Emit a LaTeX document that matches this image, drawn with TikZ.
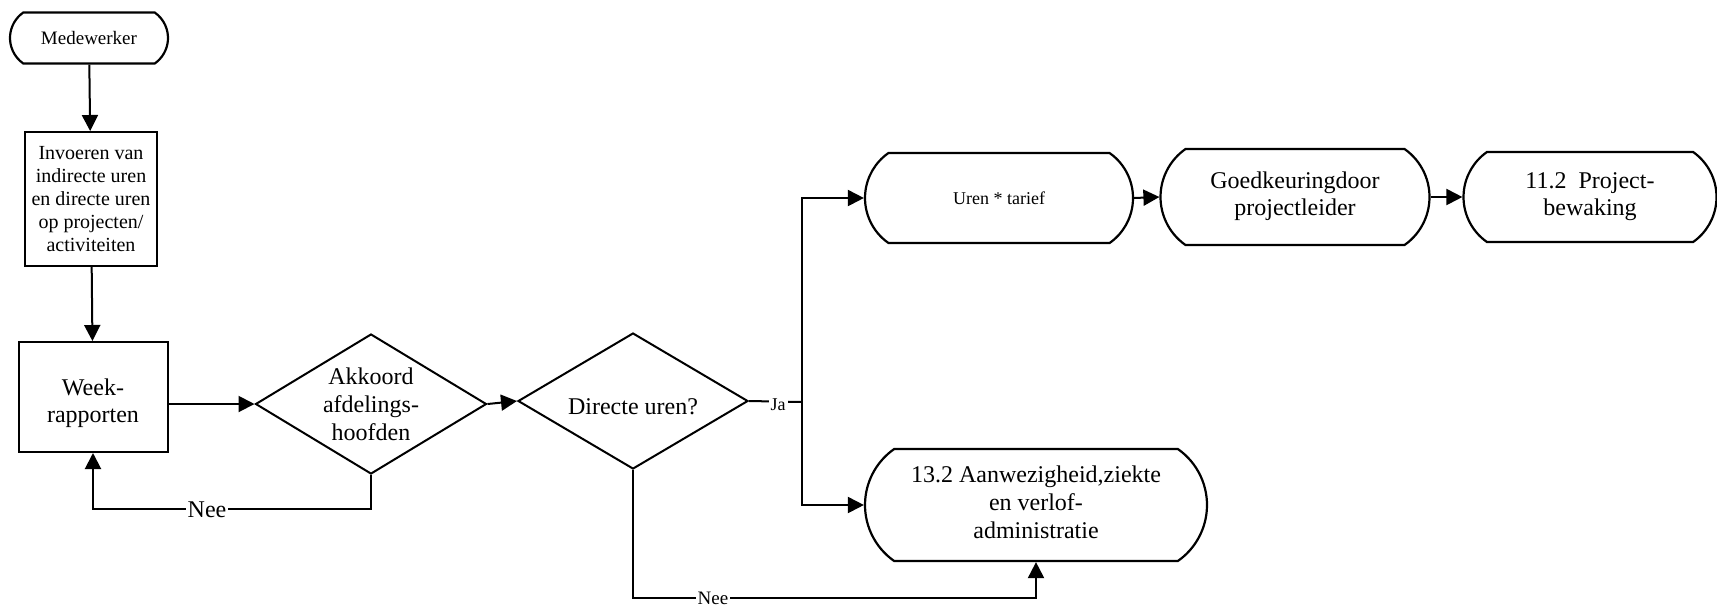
\documentclass[tikz,border=0pt]{standalone}
\usepackage{fontspec}
\setmainfont{Liberation Serif}
\usetikzlibrary{shapes.misc,shapes.geometric,arrows.meta}
% centred stack of lines for the rounded end boxes
\newcommand{\linesC}[1]{\begin{tabular}{@{}c@{}}#1\end{tabular}}
\begin{document}
\begin{tikzpicture}[x=0.5pt,y=-0.5pt,
  term/.style={rounded rectangle, rounded rectangle arc length=110, draw, line width=1.1pt, inner sep=0pt},
  proc/.style={rectangle, draw, line width=1pt, inner sep=0pt, align=center},
  dec/.style={diamond, draw, line width=1pt, inner sep=0pt},
  flow/.style={line width=1pt, -{Triangle[length=8pt,width=8pt]}},
  plain/.style={line width=1pt},
  lbl/.style={fill=white, inner sep=1pt},
  big/.style={font=\fontsize{12}{13.5}\selectfont},
  small/.style={font=\fontsize{9}{11}\selectfont}]
\useasboundingbox (0,0) rectangle (1717,607);

% left column
\node[term, font=\fontsize{9.5}{11}\selectfont, minimum width=79pt, minimum height=25.5pt] (med) at (89,38) {Medewerker};
\node[proc, font=\fontsize{10}{11.5}\selectfont, minimum width=66pt, minimum height=67pt] (inv) at (91,199)
  {Invoeren van\\indirecte uren\\en directe uren\\op projecten/\\activiteiten};
\node[proc, minimum width=74.5pt, minimum height=55pt] (week) at (93,397) {};
\node[big, align=center] (weektxt) at (93,403) {Week-\\rapporten};

% decisions
\node[dec, minimum width=115.5pt, minimum height=70pt] (akk) at (371,404) {};
\node[font=\fontsize{12}{14}\selectfont, align=center] (akktxt) at (371,404) {Akkoord\\afdelings-\\hoofden};
\node[dec, minimum width=115pt, minimum height=68pt] (dir) at (633,401) {};
\node[big] (dirtxt) at (633,407) {Directe uren?};

% right side terminals
\node[term, small, minimum width=134pt, minimum height=45pt] (uren) at (999,198) {Uren * tarief};
\node[term, big, minimum width=134.5pt, minimum height=48pt] (goed) at (1295,197)
  {\linesC{Goedkeuringdoor\\projectleider}};
\node[term, big, minimum width=126.5pt, minimum height=45pt] (proj) at (1590,197)
  {\linesC{11.2~~Project-\\bewaking}};
\node[term, font=\fontsize{12}{14}\selectfont, minimum width=171pt, minimum height=56pt] (adm) at (1036,505)
  {\linesC{13.2 Aanwezigheid,ziekte\\en verlof-\\administratie}};

\coordinate (split) at (802,402);

% connectors
\draw[flow] (med) -- (inv);
\draw[flow] (inv) -- (week);
\draw[flow] (week.east |- akk) -- (akk.west);
\draw[flow] (akk.east) -- (dir.west);
\draw[flow] (akk.south) -- ++(0,34) -| (week.south);
\node[lbl, big] (nee1) at (207,510) {Nee};
\draw[plain] (dir.east) -- (split);
\node[lbl, small] (ja) at (778,405) {Ja};
\draw[flow] (split) |- (uren.west);
\draw[flow] (split) |- (adm.west);
\draw[flow] (uren.east) -- (goed.west);
\draw[flow] (goed.east) -- (proj.west);
\draw[flow] (dir.south) -- ++(0,128) -| (adm.south);
\node[lbl, font=\fontsize{9.5}{11}\selectfont] (nee2) at (713,598) {Nee};
\end{tikzpicture}
\end{document}
